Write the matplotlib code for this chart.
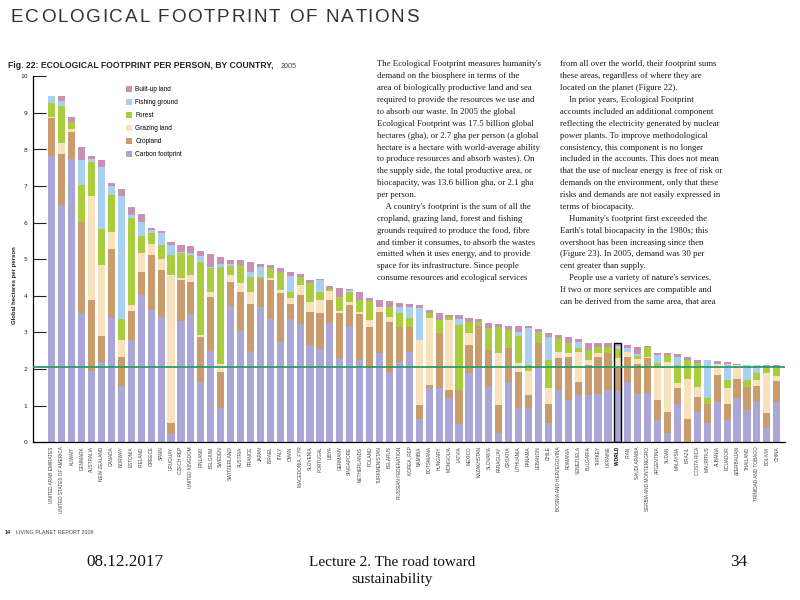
import numpy as np
import matplotlib
matplotlib.use("Agg")
from matplotlib import pyplot as plt
from matplotlib.patches import Patch
from matplotlib.font_manager import FontProperties

# Fig. 22 data (global hectares per person, 2005)
countries = [
    "UNITED ARAB EMIRATES", "UNITED STATES OF AMERICA", "KUWAIT", "DENMARK", "AUSTRALIA",
    "NEW ZEALAND", "CANADA", "NORWAY", "ESTONIA", "IRELAND", "GREECE", "SPAIN", "URUGUAY",
    "CZECH REP", "UNITED KINGDOM", "FINLAND", "BELGIUM", "SWEDEN", "SWITZERLAND", "AUSTRIA",
    "FRANCE", "JAPAN", "ISRAEL", "ITALY", "OMAN", "MACEDONIA, FYR", "SLOVENIA", "PORTUGAL",
    "LIBYA", "GERMANY", "SINGAPORE", "NETHERLANDS", "POLAND", "TURKMENISTAN", "BELARUS",
    "RUSSIAN FEDERATION", "KOREA, REP", "NAMIBIA", "BOTSWANA", "HUNGARY", "MONGOLIA", "LATVIA",
    "MEXICO", "KAZAKHSTAN", "SLOVAKIA", "PARAGUAY", "CROATIA", "LITHUANIA", "PANAMA", "LEBANON",
    "CHILE", "BOSNIA AND HERZEGOVINA", "ROMANIA", "VENEZUELA", "BULGARIA", "TURKEY", "UKRAINE",
    "WORLD", "IRAN", "SAUDI ARABIA", "SERBIA AND MONTENEGRO", "ARGENTINA", "SUDAN", "MALAYSIA",
    "BRAZIL", "COSTA RICA", "MAURITIUS", "ALBANIA", "ECUADOR", "AZERBAIJAN", "THAILAND",
    "TRINIDAD AND TOBAGO", "BOLIVIA", "CHINA",
]
carbon = [7.81, 6.49, 7.75, 3.54, 1.95, 2.20, 3.43, 1.54, 2.79, 4.02, 3.61, 3.41, 0.22,
          3.31, 3.50, 1.65, 2.50, 0.93, 3.72, 3.05, 2.50, 3.70, 3.38, 2.75, 3.38, 3.22,
          2.65, 2.54, 3.25, 2.29, 3.17, 2.25, 2.02, 2.43, 1.93, 2.20, 2.48, 0.65, 1.47,
          1.47, 1.22, 0.50, 1.88, 2.02, 1.52, 0.25, 1.66, 0.93, 0.95, 2.02, 0.54, 1.44,
          1.16, 1.29, 1.29, 1.32, 1.44, 1.41, 1.66, 1.31, 1.34, 0.61, 0.25, 1.05, 0.00,
          0.84, 0.52, 1.11, 0.61, 1.20, 0.88, 1.11, 0.38, 1.11]
cropland = [1.04, 1.39, 0.72, 2.48, 1.93, 0.71, 1.86, 0.78, 0.81, 0.63, 1.50, 1.29, 0.30,
            1.12, 0.88, 1.23, 1.47, 1.00, 0.66, 1.06, 1.29, 0.75, 1.05, 1.32, 0.41, 0.80,
            0.91, 0.98, 0.63, 1.25, 0.58, 1.25, 1.12, 1.14, 1.37, 0.96, 0.68, 0.37, 0.10,
            1.51, 0.21, 0.93, 0.78, 1.16, 1.00, 0.77, 0.91, 1.00, 0.34, 0.68, 0.52, 0.85,
            1.16, 0.37, 0.82, 1.02, 1.01, 0.64, 0.68, 0.83, 0.95, 0.55, 0.59, 0.42, 0.65,
            0.41, 0.54, 0.73, 0.45, 0.54, 0.64, 0.43, 0.41, 0.56]
grazing = [0.03, 0.29, 0.09, 0.00, 2.84, 1.93, 0.46, 0.47, 0.15, 0.52, 0.32, 0.32, 4.04,
           0.05, 0.18, 0.05, 0.14, 0.22, 0.18, 0.23, 0.32, 0.00, 0.05, 0.09, 0.14, 0.27,
           0.28, 0.36, 0.26, 0.05, 0.09, 0.06, 0.20, 0.13, 0.13, 0.00, 0.00, 1.77, 1.82,
           0.00, 1.91, 0.00, 0.32, 0.00, 0.00, 1.41, 0.00, 0.23, 0.67, 0.00, 0.41, 0.19,
           0.11, 0.82, 0.14, 0.09, 0.00, 0.26, 0.14, 0.13, 0.05, 0.91, 1.36, 0.14, 1.09,
           0.27, 0.00, 0.30, 0.41, 0.36, 0.00, 0.16, 1.09, 0.14]
forest = [0.38, 1.03, 0.19, 1.00, 0.93, 1.00, 1.00, 0.59, 2.39, 0.46, 0.29, 0.36, 0.55,
          0.70, 0.55, 2.00, 0.64, 2.64, 0.27, 0.50, 0.41, 0.07, 0.27, 0.48, 0.18, 0.23,
          0.51, 0.23, 0.06, 0.38, 0.27, 0.32, 0.51, 0.00, 0.27, 0.36, 0.23, 0.00, 0.13,
          0.36, 0.09, 1.77, 0.32, 0.12, 0.59, 0.71, 0.50, 0.74, 0.16, 0.32, 0.78, 0.36,
          0.27, 0.09, 0.27, 0.18, 0.16, 0.23, 0.00, 0.09, 0.27, 0.09, 0.18, 0.50, 0.51,
          0.66, 0.14, 0.00, 0.23, 0.00, 0.18, 0.18, 0.19, 0.21]
fishing = [0.19, 0.12, 0.00, 0.68, 0.10, 1.68, 0.24, 3.34, 0.06, 0.39, 0.07, 0.34, 0.27,
           0.02, 0.05, 0.15, 0.05, 0.08, 0.04, 0.00, 0.14, 0.27, 0.00, 0.02, 0.43, 0.00,
           0.00, 0.32, 0.00, 0.00, 0.04, 0.00, 0.00, 0.00, 0.00, 0.18, 0.31, 0.89, 0.00,
           0.00, 0.00, 0.18, 0.00, 0.00, 0.00, 0.00, 0.00, 0.12, 0.99, 0.00, 0.64, 0.00,
           0.00, 0.18, 0.00, 0.00, 0.00, 0.09, 0.09, 0.04, 0.00, 0.22, 0.00, 0.21, 0.00,
           0.00, 1.05, 0.00, 0.44, 0.00, 0.41, 0.23, 0.00, 0.05]
built_up = [0.00, 0.13, 0.13, 0.36, 0.06, 0.18, 0.09, 0.21, 0.23, 0.23, 0.06, 0.05, 0.09,
            0.20, 0.20, 0.16, 0.35, 0.18, 0.11, 0.15, 0.27, 0.09, 0.09, 0.11, 0.12, 0.09,
            0.08, 0.02, 0.07, 0.25, 0.05, 0.23, 0.10, 0.18, 0.15, 0.10, 0.08, 0.07, 0.09,
            0.20, 0.05, 0.10, 0.09, 0.07, 0.16, 0.09, 0.12, 0.17, 0.07, 0.07, 0.11, 0.09,
            0.17, 0.06, 0.18, 0.09, 0.09, 0.07, 0.09, 0.21, 0.02, 0.07, 0.07, 0.09, 0.09,
            0.07, 0.00, 0.08, 0.06, 0.05, 0.00, 0.00, 0.04, 0.03]
biocapacity = 2.05

layers = [
    ("Carbon footprint", carbon, "#aaa6d8"),
    ("Cropland", cropland, "#c99b6d"),
    ("Grazing land", grazing, "#f8e2bd"),
    ("Forest", forest, "#aacd3f"),
    ("Fishing ground", fishing, "#a9d0f0"),
    ("Built-up land", built_up, "#c791b5"),
]

W, H = 800, 600
fig = plt.figure(figsize=(8, 6), dpi=100)
fig.patch.set_facecolor("white")


def px(x, y):
    return x / W, 1 - y / H


def spaced_text(x0, y0, s, size, tracking, **kw):
    # draw a string letter by letter with extra tracking (pixels)
    r = fig.canvas.get_renderer()
    fp = FontProperties(family="Liberation Sans", size=size)
    w_i = r.get_text_width_height_descent("I", fp, ismath=False)[0]
    for k, ch in enumerate(s):
        if ch == " ":
            continue
        pre = r.get_text_width_height_descent(s[:k] + "I", fp, ismath=False)[0] - w_i
        fig.text(*px(x0 + pre + k * tracking, y0), ch, fontproperties=fp,
                 ha="left", va="center", **kw)


ax = fig.add_axes([33 / W, 1 - 442.3 / H, 751.7 / W, 366 / H])
x = np.arange(len(countries))
bottom = np.zeros(len(countries))
for name, vals, col in layers:
    ax.bar(x, vals, 0.72, bottom=bottom, color=col, linewidth=0)
    bottom += np.array(vals)

# outline round the world average
w = countries.index("WORLD")
ax.bar(x[w], bottom[w], 0.72, fill=False, edgecolor="black", linewidth=1.0)

ax.axhline(biocapacity, color="#2b9c68", lw=1.3, zorder=5)

ax.set_xlim(-1.9, 73.8)
ax.set_ylim(0, 10)
ax.set_yticks(range(11))
ax.tick_params(axis="y", direction="in", length=9, width=0.8, labelsize=4.3, pad=4,
               colors="#222222")
ax.set_xticks(x)
ax.set_xticklabels(countries, rotation=90, fontsize=3.4, color="#444444",
                   family="Liberation Sans")
ax.get_xticklabels()[w].set_fontweight("bold")
ax.get_xticklabels()[w].set_color("black")
ax.tick_params(axis="x", length=0, pad=3)
for s in ["top", "right"]:
    ax.spines[s].set_visible(False)
ax.spines["left"].set_linewidth(0.9)
ax.spines["bottom"].set_linewidth(0.9)

fig.text(*px(15, 285), "Global hectares per person", rotation=90,
         ha="center", va="center", fontsize=4.3, fontweight="bold", color="#222222",
         family="Liberation Sans")

handles = [Patch(facecolor=c, label=n) for n, v, c in layers[::-1]]
fig.legend(handles=handles, loc="upper left", bbox_to_anchor=px(126, 86),
           frameon=False, handlelength=0.9, handleheight=1.1,
           handletextpad=0.5, labelspacing=0.85, borderpad=0, borderaxespad=0,
           prop={"family": "Liberation Sans", "size": 4.7})

# page heading
spaced_text(11, 17, "ECOLOGICAL FOOTPRINT OF NATIONS", 13.6, 1.8, color="#333333")
fig.text(*px(8, 66), "Fig. 22: ECOLOGICAL FOOTPRINT PER PERSON, BY COUNTRY,",
         fontsize=6.2, fontweight="bold", family="Liberation Sans", color="#222222",
         ha="left", va="center")
fig.text(*px(281, 66), "2005", fontsize=5.2, family="Liberation Sans",
         color="#444444", ha="left", va="center")

col1 = [
    "The Ecological Footprint measures humanity's",
    "demand on the biosphere in terms of the",
    "area of biologically productive land and sea",
    "required to provide the resources we use and",
    "to absorb our waste. In 2005 the global",
    "Ecological Footprint was 17.5 billion global",
    "hectares (gha), or 2.7 gha per person (a global",
    "hectare is a hectare with world-average ability",
    "to produce resources and absorb wastes). On",
    "the supply side, the total productive area, or",
    "biocapacity, was 13.6 billion gha, or 2.1 gha",
    "per person.",
    "    A country's footprint is the sum of all the",
    "cropland, grazing land, forest and fishing",
    "grounds required to produce the food, fibre",
    "and timber it consumes, to absorb the wastes",
    "emitted when it uses energy, and to provide",
    "space for its infrastructure. Since people",
    "consume resources and ecological services",
]
col2 = [
    "from all over the world, their footprint sums",
    "these areas, regardless of where they are",
    "located on the planet (Figure 22).",
    "    In prior years, Ecological Footprint",
    "accounts included an additional component",
    "reflecting the electricity generated by nuclear",
    "power plants. To improve methodological",
    "consistency, this component is no longer",
    "included in the accounts. This does not mean",
    "that the use of nuclear energy is free of risk or",
    "demands on the environment, only that these",
    "risks and demands are not easily expressed in",
    "terms of biocapacity.",
    "    Humanity's footprint first exceeded the",
    "Earth's total biocapacity in the 1980s; this",
    "overshoot has been increasing since then",
    "(Figure 23). In 2005, demand was 30 per",
    "cent greater than supply.",
    "    People use a variety of nature's services.",
    "If two or more services are compatible and",
    "can be derived from the same area, that area",
]
for lines, x0 in [(col1, 377), (col2, 560)]:
    for k, line in enumerate(lines):
        fig.text(*px(x0, 64.5 + 11.87 * k), line, fontsize=6.3,
                 family="Liberation Serif", color="#1a1a1a", ha="left", va="center")

fig.text(*px(5, 532), "14", fontsize=3.9, fontweight="bold",
         family="Liberation Sans", color="#333333", va="center")
fig.text(*px(16, 532), "LIVING PLANET REPORT 2008", fontsize=3.9,
         family="Liberation Sans", color="#444444", va="center")

# slide footer
fig.text(*px(125, 562), "08.12.2017", fontsize=12.3, family="Liberation Serif",
         ha="center", va="center", color="#111111")
fig.text(*px(392, 562), "Lecture 2. The road toward", fontsize=11,
         family="Liberation Serif", ha="center", va="center", color="#111111")
fig.text(*px(392, 580), "sustainability", fontsize=11, family="Liberation Serif",
         ha="center", va="center", color="#111111")
fig.text(*px(739, 562), "34", fontsize=12.3, family="Liberation Serif",
         ha="center", va="center", color="#111111")

fig.savefig("out.png", dpi=100)
